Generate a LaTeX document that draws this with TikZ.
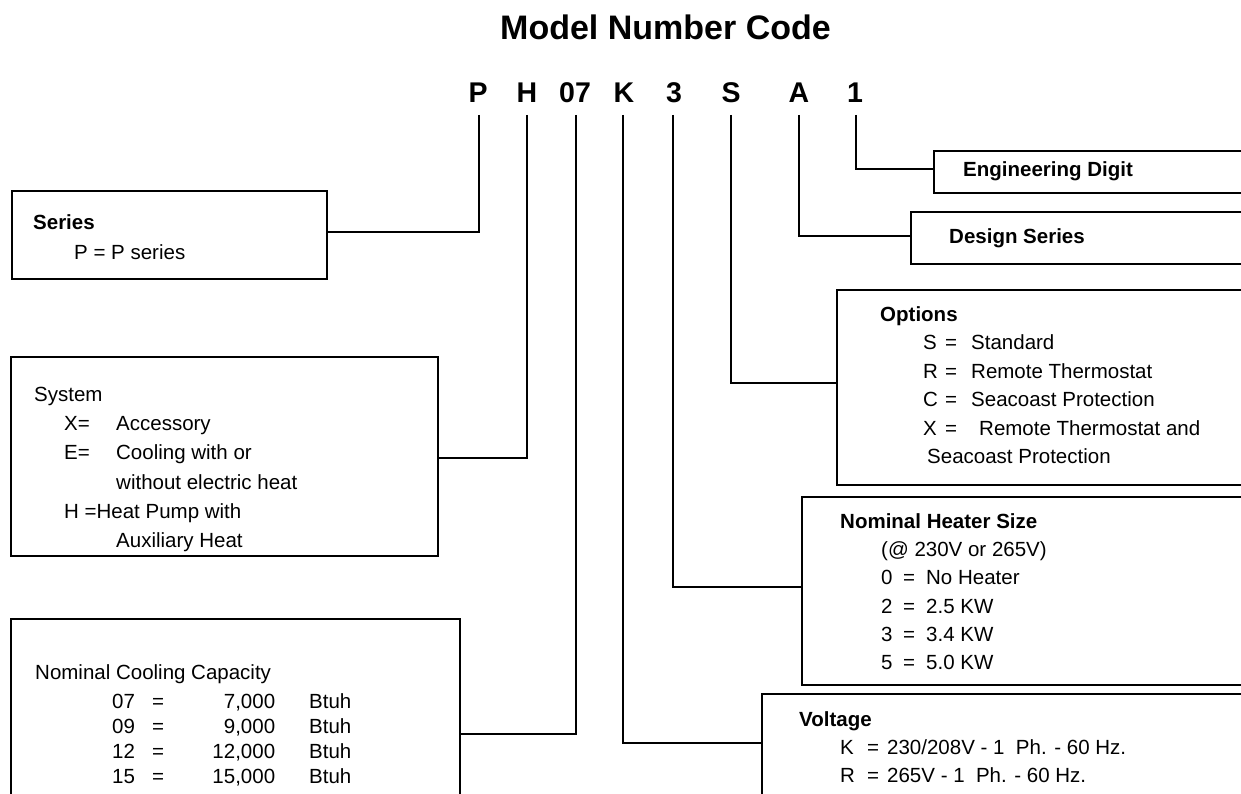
\documentclass[tikz,border=0pt]{standalone}
\usepackage{fontspec}
\setmainfont{Liberation Sans}
\begin{document}
\begin{tikzpicture}[x=1pt,y=-1pt,
  box/.style={draw=black,line width=1.8pt,anchor=north west,inner sep=0pt},
  conn/.style={draw=black,line width=2.7pt},
  txt/.style={anchor=west,inner sep=0pt,font=\fontsize{20.5}{24}\selectfont,text height=14.7pt,text depth=0pt},
  btxt/.style={txt,font=\fontsize{20.5}{24}\selectfont\bfseries},
  code/.style={anchor=center,inner sep=0pt,font=\fontsize{28.5}{30}\selectfont\bfseries,text height=20.4pt,text depth=0pt},
  ttl/.style={anchor=center,inner sep=0pt,font=\fontsize{34}{36}\selectfont\bfseries,text height=24.4pt,text depth=0pt}]
\path[use as bounding box] (0,0) rectangle (1241,794);
\clip (0,0) rectangle (1241,794);
\fill[white] (0,0) rectangle (1241,794);

% title and code
\node[ttl] (title) at (665.5,27) {Model Number Code};
\node[code] (cP) at (478,92) {P};
\node[code] (cH) at (527,92) {H};
\node[code] (c07) at (575,92) {07};
\node[code] (cK) at (624,92) {K};
\node[code] (c3) at (674,92) {3};
\node[code] (cS) at (731,92) {S};
\node[code] (cA) at (799,92) {A};
\node[code] (c1) at (855,92) {1};

\coordinate (tP) at (479,115);
\coordinate (tH) at (527,115);
\coordinate (t07) at (576,115);
\coordinate (tK) at (623,115);
\coordinate (t3) at (673,115);
\coordinate (tS) at (731,115);
\coordinate (tA) at (799,115);
\coordinate (t1) at (856,115);

% boxes
\node[box,minimum width=315pt,minimum height=88pt] (series) at (11,190) {};
\node[box,minimum width=427pt,minimum height=199pt] (system) at (10,356) {};
\node[box,minimum width=449pt,minimum height=260pt] (cool) at (10,618) {};
\node[box,minimum width=400pt,minimum height=42pt] (eng) at (933,150) {};
\node[box,minimum width=400pt,minimum height=52pt] (design) at (910,211) {};
\node[box,minimum width=450pt,minimum height=195pt] (opt) at (836,289) {};
\node[box,minimum width=480pt,minimum height=188pt] (heat) at (801,496) {};
\node[box,minimum width=520pt,minimum height=200pt] (volt) at (761,693) {};

\path (series.north east) ++(0,42) coordinate (seriesIn);
\path (system.north east) ++(0,102) coordinate (systemIn);
\path (cool.north east) ++(0,116) coordinate (coolIn);
\path (eng.north west) ++(0,19) coordinate (engIn);
\path (design.north west) ++(0,25) coordinate (designIn);
\path (opt.north west) ++(0,94) coordinate (optIn);
\path (heat.north west) ++(0,91) coordinate (heatIn);
\path (volt.north west) ++(0,50) coordinate (voltIn);

% connectors
\draw[conn] (tP) |- (seriesIn);
\draw[conn] (tH) |- (systemIn);
\draw[conn] (t07) |- (coolIn);
\draw[conn] (tK) |- (voltIn);
\draw[conn] (t3) |- (heatIn);
\draw[conn] (tS) |- (optIn);
\draw[conn] (tA) |- (designIn);
\draw[conn] (t1) |- (engIn);

% Series
\node[btxt] (serT) at (33,222) {Series};
\node[txt] (serP) at (74,252) {P = P series};

% System
\node[txt] (sysT) at (34,394) {System};
\node[txt] (sysX) at (64,423) {\makebox[52pt][l]{X=}Accessory};
\node[txt] (sysE) at (64,452) {\makebox[52pt][l]{E=}Cooling with or};
\node[txt] (sysE2) at (116,482) {without electric heat};
\node[txt] (sysH) at (64,511) {H =Heat Pump with};
\node[txt] (sysH2) at (116,540) {Auxiliary Heat};

% Cooling
\node[txt] (coolT) at (35,672) {Nominal Cooling Capacity};
\node[txt] (cool07) at (112,701) {\makebox[40pt][l]{07}\makebox[25pt][l]{=}\makebox[98pt][r]{7,000}\hspace{34pt}Btuh};
\node[txt] (cool09) at (112,726) {\makebox[40pt][l]{09}\makebox[25pt][l]{=}\makebox[98pt][r]{9,000}\hspace{34pt}Btuh};
\node[txt] (cool12) at (112,751) {\makebox[40pt][l]{12}\makebox[25pt][l]{=}\makebox[98pt][r]{12,000}\hspace{34pt}Btuh};
\node[txt] (cool15) at (112,776) {\makebox[40pt][l]{15}\makebox[25pt][l]{=}\makebox[98pt][r]{15,000}\hspace{34pt}Btuh};

% Right boxes
\node[btxt] (engT) at (963,169) {Engineering Digit};
\node[btxt] (desT) at (949,236) {Design Series};

\node[btxt] (optT) at (880,314) {Options};
\node[txt] (optS) at (923,342.5) {\makebox[22pt][l]{S}\makebox[26pt][l]{=}Standard};
\node[txt] (optR) at (923,371) {\makebox[22pt][l]{R}\makebox[26pt][l]{=}Remote Thermostat};
\node[txt] (optC) at (923,399.5) {\makebox[22pt][l]{C}\makebox[26pt][l]{=}Seacoast Protection};
\node[txt] (optX) at (923,428) {\makebox[22pt][l]{X}\makebox[34pt][l]{=}Remote Thermostat and};
\node[txt] (optX2) at (927,456.5) {Seacoast Protection};

\node[btxt] (heatT) at (840,521) {Nominal Heater Size};
\node[txt] (heatAt) at (881,549) {(@ 230V or 265V)};
\node[txt] (heat0) at (881,577) {\makebox[22pt][l]{0}\makebox[23pt][l]{=}No Heater};
\node[txt] (heat2) at (881,606) {\makebox[22pt][l]{2}\makebox[23pt][l]{=}2.5 KW};
\node[txt] (heat3) at (881,634) {\makebox[22pt][l]{3}\makebox[23pt][l]{=}3.4 KW};
\node[txt] (heat5) at (881,662) {\makebox[22pt][l]{5}\makebox[23pt][l]{=}5.0 KW};

\node[btxt] (voltT) at (799,719) {Voltage};
\node[txt] (voltK) at (840,747) {\makebox[27pt][l]{K}\makebox[20pt][l]{=}230/208V - 1~~Ph. - 60 Hz.};
\node[txt] (voltR) at (840,775) {\makebox[27pt][l]{R}\makebox[20pt][l]{=}265V - 1~~Ph. - 60 Hz.};
\end{tikzpicture}
\end{document}
